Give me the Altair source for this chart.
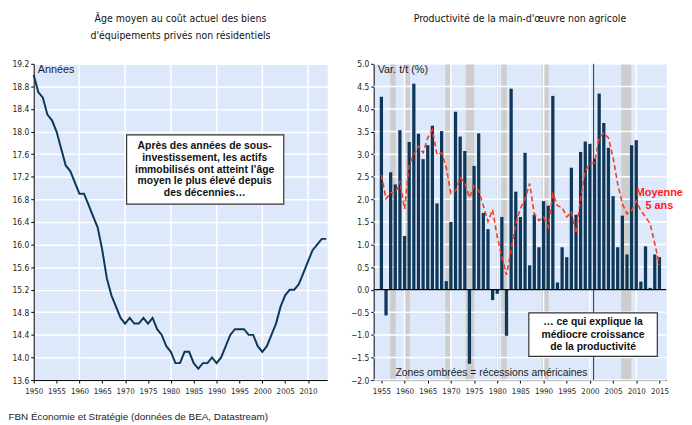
import altair as alt
import pandas as pd

# ---------------- data ----------------
age_years = list(range(1950, 2015))
age_values = [19.0, 18.7, 18.6, 18.3, 18.2, 18.0, 17.7, 17.4, 17.3, 17.1,
              16.9, 16.9, 16.7, 16.5, 16.3, 15.9, 15.4, 15.1, 14.9, 14.7,
              14.6, 14.7, 14.6, 14.6, 14.7, 14.6, 14.7, 14.5, 14.4, 14.2,
              14.1, 13.9, 13.9, 14.1, 14.1, 13.9, 13.8, 13.9, 13.9, 14.0,
              13.9, 14.0, 14.2, 14.4, 14.5, 14.5, 14.5, 14.4, 14.4, 14.2,
              14.1, 14.2, 14.4, 14.6, 14.9, 15.1, 15.2, 15.2, 15.3, 15.5,
              15.7, 15.9, 16.0, 16.1, 16.1]

prod_years = list(range(1955, 2016))
prod_values = [4.27, -0.57, 2.60, 2.33, 3.53, 1.19, 3.27, 4.56, 3.45, 2.89,
               3.20, 3.63, 1.91, 3.51, 0.19, 1.50, 3.94, 3.39, 3.07, -1.64,
               2.74, 3.46, 1.70, 1.34, -0.23, -0.09, 1.61, -1.02, 4.45, 2.17,
               1.61, 3.03, 0.54, 1.66, 0.94, 1.96, 1.86, 4.29, 0.16, 0.94,
               0.72, 2.70, 1.66, 3.05, 3.28, 3.23, 2.90, 4.34, 3.69, 3.14,
               2.07, 0.94, 1.64, 0.78, 3.20, 3.31, 0.18, 0.96, 0.04, 0.78,
               0.72]
ma5_values = [2.54, 2.01, 2.15, 2.12, 2.41, 1.79, 2.77, 2.99, 3.18, 3.03,
              3.36, 3.54, 2.99, 3.03, 2.70, 2.13, 2.19, 2.48, 2.37, 2.04,
              2.30, 2.19, 1.86, 1.51, 1.77, 1.17, 0.73, 0.33, 0.88, 1.46,
              1.80, 2.01, 2.35, 1.68, 1.53, 1.61, 1.39, 2.12, 1.86, 1.82,
              1.61, 1.72, 1.24, 2.04, 2.63, 2.79, 2.81, 3.36, 3.47, 3.36,
              2.92, 2.34, 1.90, 1.68, 1.75, 1.96, 1.75, 1.61, 1.46, 1.02,
              0.55]

rec_start = [1956.9, 1959.9, 1968.8, 1973.2, 1980.9, 1989.6, 2006.75]
rec_end = [1958.1, 1961.15, 1970.1, 1975.05, 1982.05, 1991.1, 2008.95]
rec_1980_start = [1979.8]
rec_1980_end = [1980.2]
line_2001 = [2000.8]

left_x_ticks = [1950, 1955, 1960, 1965, 1970, 1975, 1980, 1985, 1990, 1995, 2000, 2005, 2010]
left_y_ticks = [13.6, 14.0, 14.4, 14.8, 15.2, 15.6, 16.0, 16.4, 16.8, 17.2, 17.6, 18.0, 18.4, 18.8, 19.2]
right_x_ticks = [1955, 1960, 1965, 1970, 1975, 1980, 1985, 1990, 1995, 2000, 2005, 2010, 2015]
right_y_ticks = [-2.0, -1.5, -1.0, -0.5, 0.0, 0.5, 1.0, 1.5, 2.0, 2.5, 3.0, 3.5, 4.0, 4.5, 5.0]
decades = [1960, 1970, 1980, 1990, 2000, 2010]

# ---------------- style ----------------
NAVY = "#0e3759"
RED = "#fa3a18"
BG = "#dde9fb"
NARROW = "Liberation Sans Narrow, Arial Narrow, DejaVu Sans Condensed, sans-serif"
SANS = "Liberation Sans, Arial, sans-serif"
W1, W2, H = 297, 296, 320

one = pd.DataFrame({"a": [0]})

# ---------------- left chart ----------------
xs1 = alt.Scale(domain=[1950, 2014.2], nice=False, zero=False)
ys1 = alt.Scale(domain=[13.6, 19.2], nice=False, zero=False)
ax1x = alt.Axis(values=left_x_ticks, format="d", title=None, grid=False,
                labelOverlap=False, labelFlush=False, labelFontSize=8, labelPadding=5)
ax1y = alt.Axis(values=left_y_ticks, format=".1f", title=None, grid=True,
                labelOverlap=False, labelFlush=False)

age_df = pd.DataFrame({"year": age_years, "age": age_values})
dec_df = pd.DataFrame({"year": decades})

vgrid1 = alt.Chart(dec_df).mark_rule(color="white", strokeWidth=1.5).encode(
    x=alt.X("year:Q", scale=xs1, axis=ax1x))

line1 = alt.Chart(age_df).mark_line(color=NAVY, strokeWidth=2).encode(
    x=alt.X("year:Q", scale=xs1, axis=ax1x),
    y=alt.Y("age:Q", scale=ys1, axis=ax1y))

box1 = alt.Chart(one).mark_rect(fill="white", stroke="#333333", strokeWidth=1.2).encode(
    x=alt.value(94), x2=alt.value(253), y=alt.value(72), y2=alt.value(142))

box1_text = alt.Chart(one).mark_text(
    align="center", baseline="middle", font=SANS, fontSize=10.5, fontWeight="bold",
    color="#111111", lineBreak="\n", lineHeight=12).encode(
    x=alt.value(173), y=alt.value(83),
    text=alt.value("Après des années de sous-\ninvestissement, les actifs\nimmobilisés ont atteint l’âge\nmoyen le plus élevé depuis\ndes décennies…"))

annees = alt.Chart(one).mark_text(
    align="left", baseline="middle", font=SANS, fontSize=11, color="#222222").encode(
    x=alt.value(4), y=alt.value(6), text=alt.value("Années"))

left = alt.layer(vgrid1, line1, box1, box1_text, annees).properties(
    width=W1, height=H,
    title=alt.TitleParams(
        text=["Âge moyen au coût actuel des biens", "d'équipements privés non résidentiels"],
        font=NARROW, fontSize=10.6, fontWeight="normal", color="#111111",
        lineHeight=17, offset=19, frame="group", anchor="middle"))

# ---------------- right chart ----------------
xs2 = alt.Scale(domain=[1954.4, 2015.4], nice=False, zero=False)
ys2 = alt.Scale(domain=[-2, 5], nice=False, zero=False)
ax2x = alt.Axis(values=right_x_ticks, format="d", title=None, grid=False,
                labelOverlap=False, labelFlush=False, labelFontSize=8, labelPadding=5)
ax2y = alt.Axis(values=right_y_ticks, format=".1f", title=None, grid=False,
                labelOverlap=False, labelFlush=False)

prod_df = pd.DataFrame({"year": prod_years, "val": prod_values, "ma": ma5_values})
rec_df = pd.DataFrame({"s": rec_start, "e": rec_end})
rec80_df = pd.DataFrame({"s": rec_1980_start, "e": rec_1980_end})
l01_df = pd.DataFrame({"year": line_2001})
hgrid_df = pd.DataFrame({"v": right_y_ticks})
zero_df = pd.DataFrame({"v": [0.0]})

rec = alt.Chart(rec_df).mark_rect(color="#cdcdcd").encode(
    x=alt.X("s:Q", scale=xs2, axis=ax2x), x2="e:Q", y=alt.value(0), y2=alt.value(H))
rec80 = alt.Chart(rec80_df).mark_rect(color="#9aa4b2").encode(
    x=alt.X("s:Q", scale=xs2, axis=ax2x), x2="e:Q", y=alt.value(0), y2=alt.value(H))
hgrid2 = alt.Chart(hgrid_df).mark_rule(color="white", strokeWidth=1.5).encode(
    y=alt.Y("v:Q", scale=ys2, axis=ax2y))
vgrid2 = alt.Chart(dec_df).mark_rule(color="white", strokeWidth=1.5).encode(
    x=alt.X("year:Q", scale=xs2, axis=ax2x))
l01 = alt.Chart(l01_df).mark_rule(color="#333333", strokeWidth=1).encode(
    x=alt.X("year:Q", scale=xs2, axis=ax2x))

bars = alt.Chart(prod_df).mark_bar(color=NAVY, size=3.3).encode(
    x=alt.X("year:Q", scale=xs2, axis=ax2x),
    y=alt.Y("val:Q", scale=ys2, axis=ax2y),
    y2=alt.Y2(datum=0))

zero_line = alt.Chart(zero_df).mark_rule(color="black", strokeWidth=1.2).encode(
    y=alt.Y("v:Q", scale=ys2, axis=ax2y))

ma_line = alt.Chart(prod_df).mark_line(color=RED, strokeWidth=1.6, strokeDash=[5, 3]).encode(
    x=alt.X("year:Q", scale=xs2, axis=ax2x),
    y=alt.Y("ma:Q", scale=ys2, axis=ax2y))

var_txt = alt.Chart(one).mark_text(
    align="left", baseline="middle", font=SANS, fontSize=11, color="#222222").encode(
    x=alt.value(4), y=alt.value(6), text=alt.value("Var. t/t (%)"))

zones_txt = alt.Chart(one).mark_text(
    align="left", baseline="middle", font=SANS, fontSize=10.5, color="#222222").encode(
    x=alt.value(22), y=alt.value(313),
    text=alt.value("Zones ombrées = récessions américaines"))

moy_txt = alt.Chart(one).mark_text(
    align="center", baseline="middle", font=SANS, fontSize=11, fontWeight="bold",
    color="#ff1a1a", lineBreak="\n", lineHeight=13).encode(
    x=alt.value(289), y=alt.value(131), text=alt.value("Moyenne\n5 ans"))

box2 = alt.Chart(one).mark_rect(fill="white", stroke="#333333", strokeWidth=1.2).encode(
    x=alt.value(157), x2=alt.value(287), y=alt.value(252), y2=alt.value(296))

box2_text = alt.Chart(one).mark_text(
    align="center", baseline="middle", font=SANS, fontSize=10.5, fontWeight="bold",
    color="#111111", lineBreak="\n", lineHeight=12.7).encode(
    x=alt.value(222), y=alt.value(261.5),
    text=alt.value("… ce qui explique la\nmédiocre croissance\nde la productivité"))

right = alt.layer(rec, rec80, hgrid2, vgrid2, l01, bars, zero_line, ma_line,
                  var_txt, zones_txt, moy_txt, box2, box2_text).properties(
    width=W2, height=H,
    title=alt.TitleParams(
        text="Productivité de la main-d'œuvre non agricole",
        font=NARROW, fontSize=10.6, fontWeight="normal", color="#111111",
        offset=36, frame="group", anchor="middle"))

chart = alt.hconcat(left, right, spacing=17).properties(
    padding={"left": 0, "top": 2, "right": 0, "bottom": 0},
    title=alt.TitleParams(
        text="FBN Économie et Stratégie (données de BEA, Datastream)",
        orient="bottom", anchor="start", font=SANS, fontSize=10,
        fontWeight="normal", color="#222222", offset=16),
).configure_view(
    fill=BG, stroke="transparent"
).configure_axis(
    labelFont=NARROW, labelFontSize=8.5, labelColor="#222222",
    tickColor="black", tickSize=3, domainColor="black", domainWidth=1,
    gridColor="white", gridWidth=1.5, labelPadding=2
).configure_axisY(
    minExtent=25, maxExtent=25
)

chart.save("out.html", embed_options={"renderer": "svg", "actions": False})
